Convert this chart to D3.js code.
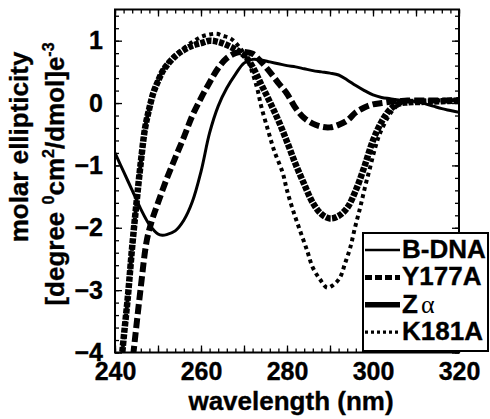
<!DOCTYPE html>
<html>
<head>
<meta charset="utf-8">
<script src="https://cdn.jsdelivr.net/npm/d3@7"></script>
<style>
  body { margin: 0; background: #fff; }
  svg { display: block; font-family: "Liberation Sans", Arial, sans-serif; }
  text { stroke: #000; stroke-width: 0.35px; }
</style>
</head>
<body>
<svg width="490" height="419"></svg>
<script>
// CD spectra
const bdnaWl  = [240, 242, 244, 246, 248, 250, 251, 252, 254, 256, 258, 260, 262, 264, 266, 268, 270, 272, 274, 276, 278, 280, 282, 284, 286, 288, 290, 292, 294, 296, 298, 300, 302, 304, 306, 308, 310, 312, 314, 316, 318, 320];
const bdnaVal = [-0.8, -1.1, -1.4, -1.7, -1.95, -2.1, -2.12, -2.11, -2.05, -1.88, -1.58, -1.1, -0.48, -0.05, 0.24, 0.46, 0.64, 0.7, 0.69, 0.66, 0.63, 0.6, 0.58, 0.55, 0.52, 0.5, 0.48, 0.45, 0.37, 0.28, 0.2, 0.13, 0.09, 0.07, 0.05, 0.04, 0.02, -0.01, -0.05, -0.09, -0.12, -0.15];

const y177Wl  = [243.5, 244.3, 246, 247.4, 248.6, 250, 252, 254, 256, 258, 260, 262, 264, 266, 268, 270, 272, 274, 276, 278, 280, 282, 284, 286, 288, 290, 292, 294, 296, 298, 300, 302, 304, 306, 308, 312, 316, 320];
const y177Val = [-4.5, -4.0, -2.95, -2.2, -1.88, -1.6, -1.22, -0.88, -0.55, -0.2, 0.08, 0.33, 0.56, 0.72, 0.8, 0.82, 0.79, 0.66, 0.5, 0.32, 0.15, -0.08, -0.24, -0.33, -0.38, -0.39, -0.35, -0.28, -0.15, -0.07, -0.02, 0, 0.02, 0.03, 0.04, 0.04, 0.04, 0.05];

const zaWl  = [241.2, 241.7, 243, 244, 245, 246, 247, 248, 249, 250, 251, 252, 254, 256, 258, 260, 262, 264, 266, 268, 270, 272, 274, 276, 278, 280, 282, 284, 286, 288, 290, 292, 294, 296, 298, 300, 302, 304, 306, 308, 312, 316, 320];
const zaVal = [-4.5, -4.0, -3.1, -2.3, -1.6, -0.95, -0.4, -0.08, 0.18, 0.35, 0.5, 0.6, 0.75, 0.85, 0.92, 0.96, 1.0, 0.98, 0.93, 0.86, 0.77, 0.58, 0.3, 0.02, -0.28, -0.62, -0.98, -1.3, -1.6, -1.78, -1.85, -1.81, -1.68, -1.4, -1.02, -0.6, -0.3, -0.1, -0.01, 0.01, 0.02, 0.03, 0.04];

const k181Wl  = [241.2, 241.7, 243, 244, 245, 246, 247, 248, 250, 252, 254, 256, 258, 260, 262, 263.7, 265, 267, 269, 271, 273, 274, 275.6, 277, 279, 280, 281.4, 283, 284.7, 286, 287.7, 289.3, 290.7, 292.3, 293.5, 294.7, 295.8, 297, 298.1, 299.3, 300.5, 301.6, 304, 306, 308, 312, 316, 320];
const k181Val = [-4.5, -4.0, -3.1, -2.3, -1.6, -0.95, -0.4, -0.08, 0.36, 0.62, 0.77, 0.88, 0.98, 1.06, 1.1, 1.11, 1.08, 1.03, 0.89, 0.66, 0.25, -0.05, -0.44, -0.76, -1.12, -1.4, -1.72, -2.04, -2.37, -2.64, -2.83, -2.96, -2.92, -2.8, -2.57, -2.32, -2.0, -1.68, -1.36, -1.04, -0.72, -0.49, -0.17, -0.02, 0.03, 0.04, 0.04, 0.05];

const xLabels = [240, 260, 280, 300, 320];
const yLabels = [-4, -3, -2, -1, 0, 1];

const series = [
  { name: "B-DNA", wl: bdnaWl, val: bdnaVal, width: 3, dash: null, lw: 2.4, ldash: null },
  { name: "Y177A", wl: y177Wl, val: y177Val, width: 6, dash: "10,4", lw: 5, ldash: "7,3" },
  { name: "Zα",    wl: zaWl,   val: zaVal,   width: 6.5, dash: "5,1.4", lw: 5.5, ldash: null },
  { name: "K181A", wl: k181Wl, val: k181Val, width: 4, dash: "3.8,3.6", lw: 3.2, ldash: "3,3" }
];

let svg = d3.select("svg");
let pLeft = 115, pRight = 459, pTop = 9.5, pBottom = 352.5;

let x = d3.scaleLinear().domain([240, 320]).range([pLeft, pRight]);
let y = d3.scaleLinear().domain([-4, 1.5]).range([pBottom, pTop]);

svg.append("clipPath").attr("id", "plotclip")
  .append("rect")
    .attr("x", pLeft).attr("y", pTop)
    .attr("width", pRight - pLeft).attr("height", pBottom - pTop);

// ticks, all pointing inward
let minorX = d3.range(240, 321, 2), majorX = d3.range(240, 321, 10);
let minorY = d3.range(-40, 16, 2).map(d => d / 10), majorY = yLabels;

function tickAxis(gen, values, size, tx, ty) {
  let g = svg.append("g")
    .attr("transform", "translate(" + tx + "," + ty + ")")
    .call(gen.tickValues(values).tickSizeInner(size).tickSizeOuter(0).tickFormat(""));
  g.select(".domain").remove();
  g.selectAll("line").attr("stroke", "#000").attr("stroke-width", 1.3);
  return g;
}
tickAxis(d3.axisBottom(x), minorX, -4, 0, pBottom);
tickAxis(d3.axisBottom(x), majorX, -7, 0, pBottom);
tickAxis(d3.axisTop(x), minorX, -4, 0, pTop);
tickAxis(d3.axisTop(x), majorX, -7, 0, pTop);
tickAxis(d3.axisLeft(y), minorY, -4, pLeft, 0);
tickAxis(d3.axisLeft(y), majorY, -7, pLeft, 0);
tickAxis(d3.axisRight(y), minorY, -4, pRight, 0);
tickAxis(d3.axisRight(y), majorY, -7, pRight, 0);

// tick labels
let xl = svg.append("g")
  .attr("transform", "translate(0," + pBottom + ")")
  .call(d3.axisBottom(x).tickValues(xLabels).tickSize(0).tickPadding(10));
xl.select(".domain").remove();
xl.selectAll("text").attr("font-size", 25).attr("font-weight", "bold")
  .attr("font-family", "Liberation Sans, Arial, sans-serif").attr("fill", "#000");

let yl = svg.append("g")
  .attr("transform", "translate(" + pLeft + ",0)")
  .call(d3.axisLeft(y).tickValues(yLabels).tickSize(0).tickPadding(12).tickFormat(d3.format("d")));
yl.select(".domain").remove();
yl.selectAll("text").attr("font-size", 25).attr("font-weight", "bold")
  .attr("font-family", "Liberation Sans, Arial, sans-serif").attr("fill", "#000");

// curves
let line = d3.line()
  .x(d => x(d[0]))
  .y(d => y(d[1]))
  .curve(d3.curveCatmullRom);

svg.append("g").attr("clip-path", "url(#plotclip)")
  .selectAll("path")
  .data(series)
  .enter()
  .append("path")
    .attr("d", s => line(s.wl.map((w, i) => [w, s.val[i]])))
    .attr("fill", "none")
    .attr("stroke", "#000")
    .attr("stroke-width", s => s.width)
    .attr("stroke-dasharray", s => s.dash);

// frame
svg.append("rect")
  .attr("x", pLeft).attr("y", pTop)
  .attr("width", pRight - pLeft).attr("height", pBottom - pTop)
  .attr("fill", "none").attr("stroke", "#000").attr("stroke-width", 2);

// axis titles
svg.append("text")
  .attr("x", 291).attr("y", 410)
  .attr("text-anchor", "middle")
  .attr("font-size", 26).attr("font-weight", "bold")
  .text("wavelength (nm)");

svg.append("text")
  .attr("transform", "translate(28,147) rotate(-90)")
  .attr("text-anchor", "middle")
  .attr("font-size", 26).attr("font-weight", "bold")
  .text("molar ellipticity");

let yt2 = svg.append("text")
  .attr("transform", "translate(64,174) rotate(-90)")
  .attr("text-anchor", "middle")
  .attr("font-size", 26).attr("font-weight", "bold");
yt2.append("tspan").text("[degree ");
yt2.append("tspan").attr("font-size", 16).attr("dy", -10).text("0");
yt2.append("tspan").attr("dy", 10).text("cm");
yt2.append("tspan").attr("font-size", 16).attr("dy", -10).text("2");
yt2.append("tspan").attr("dy", 10).text("/dmol]e");
yt2.append("tspan").attr("font-size", 16).attr("dy", -10).text("-3");

// legend
let lg = svg.append("g");
lg.append("rect")
  .attr("x", 363).attr("y", 233).attr("width", 125).attr("height", 118)
  .attr("fill", "#fff").attr("stroke", "#000").attr("stroke-width", 2);

let rows = lg.selectAll("g.row")
  .data(series)
  .enter()
  .append("g")
    .attr("class", "row")
    .attr("transform", (d, i) => "translate(0," + (258 + i * 27.4) + ")");

rows.append("line")
  .attr("x1", 365).attr("x2", 400)
  .attr("y1", -8).attr("y2", -8)
  .attr("stroke", "#000")
  .attr("stroke-width", d => d.lw)
  .attr("stroke-dasharray", d => d.ldash);

rows.append("text")
  .attr("x", 402).attr("y", 0)
  .attr("font-size", 26).attr("font-weight", "bold")
  .each(function (d) {
    let t = d3.select(this);
    if (d.name === "Zα") {
      t.append("tspan").text("Z");
      t.append("tspan").attr("font-weight", "normal").attr("dx", 3)
        .attr("font-family", "Liberation Serif, serif")
        .style("stroke-width", "0px").text("α");
    } else {
      t.text(d.name);
    }
  });
</script>
</body>
</html>
